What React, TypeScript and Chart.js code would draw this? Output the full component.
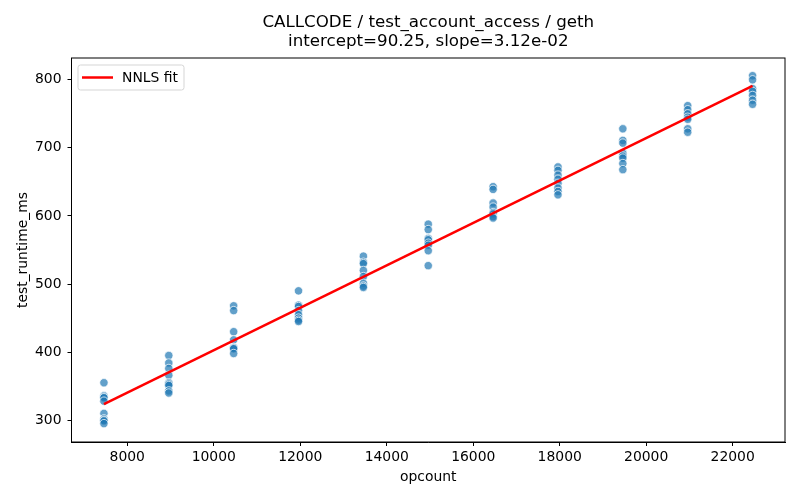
import React, { useEffect, useRef } from "react";
import { Chart, registerables } from "chart.js";

Chart.register(...registerables);

const opcounts = [7460, 8960, 10460, 11960, 13460, 14960, 16460, 17960, 19460, 20960, 22460];

// measured runtimes for each opcount level (ms)
const runtimes: number[][] = [
  [355, 336, 334, 333, 328, 310, 302, 300, 299, 295],
  [395, 384, 376, 366, 355, 353, 351, 343, 340],
  [468, 461, 430, 418, 407, 406, 405, 398],
  [490, 469, 467, 461, 455, 450, 447, 445],
  [541, 532, 530, 520, 511, 501, 497, 495],
  [588, 580, 567, 565, 560, 557, 549, 527],
  [643, 639, 619, 613, 605, 603, 599, 597],
  [672, 667, 660, 654, 648, 641, 636, 631],
  [728, 711, 707, 692, 688, 685, 677, 668],
  [762, 756, 750, 745, 742, 728, 723],
  [806, 800, 787, 783, 777, 770, 764],
];

const fitX = [7460, 22460];
const fitY = [323.5, 791];

const xTicks = [8000, 10000, 12000, 14000, 16000, 18000, 20000, 22000];
const yTicks = [300, 400, 500, 600, 700, 800];

const titleLines = ["CALLCODE / test_account_access / geth", "intercept=90.25, slope=3.12e-02"];
const legendLabel = "NNLS fit";

const FONT = "'DejaVu Sans', sans-serif";

const framePlugin = {
  id: "frame",
  afterDraw(chart: Chart) {
    const { ctx, chartArea: a } = chart;
    ctx.save();
    // four spines
    ctx.strokeStyle = "#000";
    ctx.lineWidth = 1;
    ctx.strokeRect(a.left, a.top, a.right - a.left, a.bottom - a.top);

    // title
    ctx.fillStyle = "#000";
    ctx.font = `16.7px ${FONT}`;
    ctx.textAlign = "center";
    ctx.textBaseline = "middle";
    const cx = (a.left + a.right) / 2;
    ctx.fillText(titleLines[0], cx, 22.5);
    ctx.fillText(titleLines[1], cx, 42);

    // legend box
    const bx = a.left + 6.5;
    const by = a.top + 7;
    const bw = 106;
    const bh = 25;
    ctx.beginPath();
    ctx.roundRect(bx, by, bw, bh, 2.5);
    ctx.fillStyle = "rgba(255,255,255,0.8)";
    ctx.fill();
    ctx.strokeStyle = "#d5d5d5";
    ctx.lineWidth = 1;
    ctx.stroke();
    const ly = by + bh / 2;
    ctx.beginPath();
    ctx.moveTo(bx + 4, ly);
    ctx.lineTo(bx + 35, ly);
    ctx.strokeStyle = "red";
    ctx.lineWidth = 2.5;
    ctx.stroke();
    ctx.fillStyle = "#000";
    ctx.font = `13.9px ${FONT}`;
    ctx.textAlign = "left";
    ctx.fillText(legendLabel, bx + 44, ly + 0.5);
    ctx.restore();
  },
};

const fixedTicks = (values: number[]) => (scale: any) => {
  scale.ticks = values.map((value) => ({ value }));
};

export default function App(): React.JSX.Element {
  const canvasRef = useRef<HTMLCanvasElement | null>(null);

  useEffect(() => {
    document.body.style.margin = "0";
    if (!canvasRef.current) return;

    const points = opcounts.flatMap((x, i) => runtimes[i].map((y) => ({ x, y })));
    const fitLine = fitX.map((x, i) => ({ x, y: fitY[i] }));

    const chart = new Chart(canvasRef.current, {
      type: "scatter",
      data: {
        datasets: [
          {
            type: "line",
            label: legendLabel,
            data: fitLine,
            borderColor: "red",
            borderWidth: 2.5,
            pointRadius: 0,
            order: 1,
          },
          {
            label: "runs",
            data: points,
            backgroundColor: "rgba(31,119,180,0.7)",
            borderColor: "rgba(255,255,255,0.9)",
            borderWidth: 0.8,
            pointRadius: 4.2,
            order: 2,
          },
        ],
      },
      options: {
        responsive: false,
        animation: false,
        layout: { padding: { top: 58, right: 15, left: 0, bottom: 0 } },
        plugins: {
          legend: { display: false },
          title: { display: false },
          tooltip: { enabled: false },
        },
        scales: {
          x: {
            type: "linear",
            min: 6710,
            max: 23210,
            afterBuildTicks: fixedTicks(xTicks),
            afterFit: (s: any) => {
              s.height = 58;
            },
            grid: { display: true, drawOnChartArea: false, drawTicks: true, tickLength: 4, tickColor: "#000" },
            border: { display: true, color: "#000", width: 1 },
            ticks: {
              autoSkip: false,
              maxRotation: 0,
              padding: 3,
              color: "#000",
              font: { family: FONT, size: 13.9 },
              callback: (v: any) => String(v),
            },
            title: {
              display: true,
              text: "opcount",
              color: "#000",
              font: { family: FONT, size: 13.9 },
              padding: { top: 0, bottom: 14.7 },
            },
          },
          y: {
            type: "linear",
            min: 268,
            max: 832,
            afterBuildTicks: fixedTicks(yTicks),
            afterFit: (s: any) => {
              s.width = 71.5;
            },
            grid: { display: true, drawOnChartArea: false, drawTicks: true, tickLength: 4, tickColor: "#000" },
            border: { display: true, color: "#000", width: 1 },
            ticks: {
              autoSkip: false,
              padding: 6,
              color: "#000",
              font: { family: FONT, size: 13.9 },
              callback: (v: any) => String(v),
            },
            title: {
              display: true,
              text: "test_runtime_ms",
              color: "#000",
              font: { family: FONT, size: 13.9 },
              padding: { top: 14.7, bottom: 0 },
            },
          },
        },
      },
      plugins: [framePlugin],
    });

    return () => {
      chart.destroy();
    };
  }, []);

  return <canvas ref={canvasRef} width={800} height={500} style={{ display: "block" }} />;
}
